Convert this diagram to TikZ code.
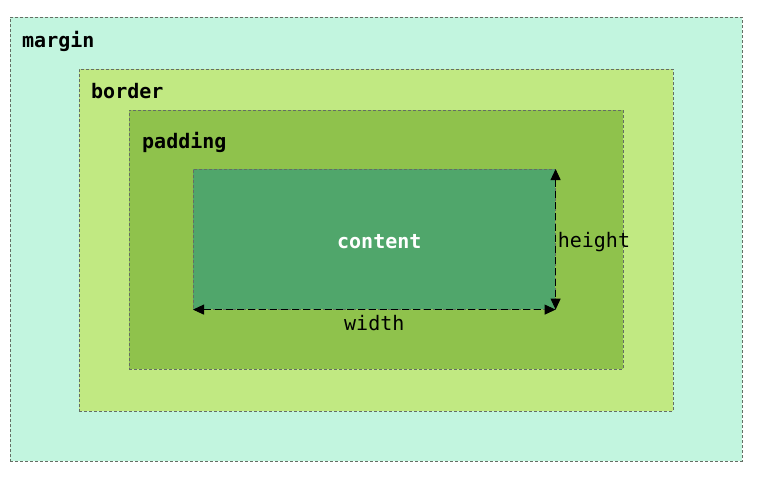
\documentclass[tikz,border=0pt]{standalone}
\usepackage{fontspec}
\setmonofont{DejaVu Sans Mono}
\usetikzlibrary{positioning,arrows.meta}
\definecolor{marginfill}{RGB}{194,245,223}
\definecolor{borderfill}{RGB}{193,233,130}
\definecolor{paddingfill}{RGB}{143,194,76}
\definecolor{contentfill}{RGB}{80,166,107}
\definecolor{edgegray}{RGB}{100,110,100}
\tikzset{
  layer/.style={draw=edgegray, dash pattern=on 3pt off 2pt, line width=0.6pt,
                inner sep=0pt, anchor=north west},
  boxlabel/.style={font=\ttfamily\bfseries\fontsize{20}{24}\selectfont,
                   anchor=west, inner sep=0pt},
  dimlabel/.style={font=\ttfamily\fontsize{20}{24}\selectfont, inner sep=1pt},
  dimarrow/.style={dash pattern=on 7pt off 4pt, line width=0.9pt,
                   {Triangle[length=11pt,width=10pt]}-{Triangle[length=11pt,width=10pt]}},
}

\begin{document}
\begin{tikzpicture}[x=1pt,y=-1pt]
  \useasboundingbox (0,0) rectangle (767,480);
  % ====== nested boxes ======
  \node[layer, fill=marginfill, minimum width=732pt, minimum height=444pt]
    (margin) at (10,17) {};
  \node[layer, fill=borderfill, minimum width=594pt, minimum height=342pt]
    (border) at (79,69) {};
  \node[layer, fill=paddingfill, minimum width=494pt, minimum height=259pt]
    (padding) at (129,110) {};
  \node[layer, fill=contentfill, minimum width=362pt, minimum height=140pt]
    (content) at (193,169) {};
  % ====== labels ======
  \node[boxlabel] (marginlbl) at (22,41) {margin};
  \node[boxlabel] (borderlbl) at (91,91) {border};
  \node[boxlabel] (paddinglbl) at (142,142) {padding};
  \node[boxlabel, anchor=center, text=white] (contentlbl)
    at ([xshift=5pt,yshift=-2pt]content.center) {content};
  % ====== dimensions ======
  \draw[dimarrow] (content.south west) -- (content.south east);
  \draw[dimarrow] (content.north east) -- (content.south east);
  \node[dimlabel, below=4pt of content.south] (widthlbl) {width};
  \node[dimlabel, right=1pt of content.east, yshift=-3pt] (heightlbl) {height};
\end{tikzpicture}
\end{document}
